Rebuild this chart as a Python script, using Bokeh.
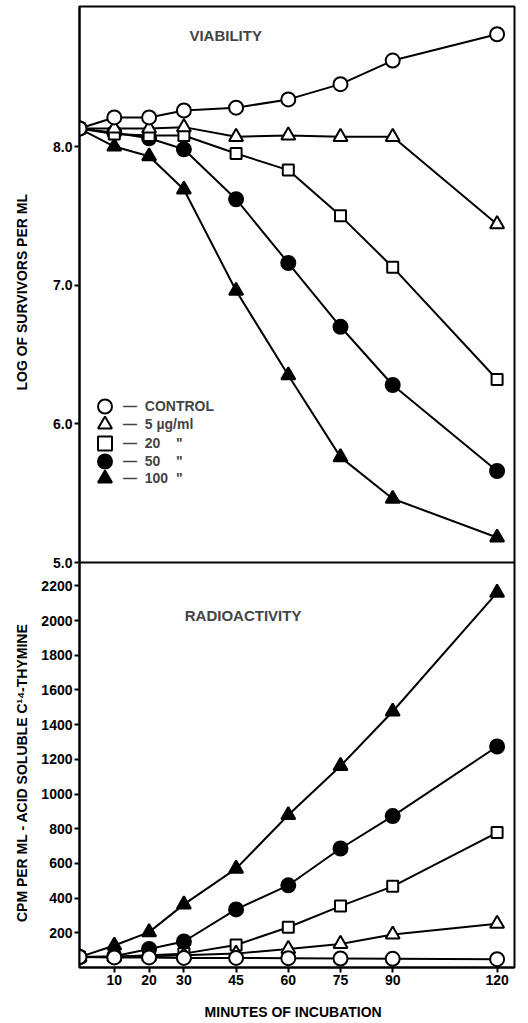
from bokeh.plotting import figure
from bokeh.layouts import column
from bokeh.models import FixedTicker, Range1d, Legend, LegendItem, Label, NumeralTickFormatter
from bokeh.embed import file_html
from bokeh.resources import INLINE

# ---------------- data ----------------
minutes = [0, 10, 20, 30, 45, 60, 75, 90, 120]
x_tick_values = [10, 20, 30, 45, 60, 75, 90, 120]

series_names = ["CONTROL", "5 µg/ml", "20", "50", "100"]
legend_labels = ["—  CONTROL", "—  5 µg/ml", "—  20    \"", "—  50    \"", "—  100  \""]

# Viability (log of survivors per ml)
viab_control = [8.13, 8.21, 8.21, 8.26, 8.28, 8.34, 8.45, 8.62, 8.81]
viab_5 = [8.13, 8.13, 8.13, 8.14, 8.07, 8.08, 8.07, 8.07, 7.44]
viab_20 = [8.13, 8.09, 8.08, 8.08, 7.95, 7.83, 7.50, 7.13, 6.32]
viab_50 = [8.13, 8.10, 8.06, 7.98, 7.62, 7.16, 6.70, 6.28, 5.66]
viab_100 = [8.13, 8.00, 7.93, 7.69, 6.96, 6.35, 5.76, 5.46, 5.18]
viab_ticks = [5.0, 6.0, 7.0, 8.0]

# Radioactivity (CPM per ml acid soluble C14-thymine)
cpm_control = [60, 58, 58, 55, 55, 54, 52, 50, 48]
cpm_5 = [60, 62, 65, 70, 80, 107, 136, 190, 252]
cpm_20 = [60, 62, 70, 80, 130, 232, 354, 468, 778]
cpm_50 = [60, 65, 107, 150, 335, 474, 686, 873, 1274]
cpm_100 = [60, 127, 204, 364, 570, 879, 1162, 1476, 2161]
cpm_ticks = [200, 400, 600, 800, 1000, 1200, 1400, 1600, 1800, 2000, 2200]

# ---------------- style ----------------
FONT = "Liberation Sans"
markers = [
    dict(marker="circle", fill_color="white", size=14),
    dict(marker="triangle", fill_color="white", size=14),
    dict(marker="square", fill_color="white", size=11),
    dict(marker="circle", fill_color="black", size=14),
    dict(marker="triangle", fill_color="black", size=14),
]
# legend rows: distance (px) from the bottom of the top frame to each legend box's bottom
legend_offsets = [137, 119, 100, 82, 65]


def style_axis(ax):
    ax.major_label_text_font = FONT
    ax.major_label_text_font_style = "bold"
    ax.major_label_text_font_size = "14px"
    ax.major_label_text_color = "black"
    ax.axis_label_text_font = FONT
    ax.axis_label_text_font_style = "bold"
    ax.axis_label_text_font_size = "14px"
    ax.axis_label_text_color = "black"
    ax.axis_line_width = 2
    ax.axis_line_color = "black"
    ax.major_tick_line_width = 2
    ax.major_tick_out = 5
    ax.major_tick_in = 0
    ax.minor_tick_out = 0
    ax.minor_tick_in = 0
    ax.major_label_standoff = 2


def base_fig(height, y_range, top, bottom, x_axis):
    p = figure(width=528, height=height, x_range=Range1d(0, 125), y_range=y_range,
               output_backend="svg", toolbar_location=None,
               x_axis_location="below" if x_axis else None,
               min_border_left=79, min_border_right=14,
               min_border_top=top, min_border_bottom=bottom)
    p.grid.visible = False
    p.outline_line_color = "black"
    p.outline_line_width = 2
    p.outline_line_alpha = 1
    p.background_fill_color = "white"
    p.border_fill_color = "white"
    return p


# ---------------- top panel ----------------
p1 = base_fig(570, Range1d(5.0, 9.01), 6, 8, False)
p1.yaxis.ticker = FixedTicker(ticks=viab_ticks)
p1.yaxis.formatter = NumeralTickFormatter(format="0.0")
p1.yaxis.axis_label = "LOG  OF  SURVIVORS  PER  ML"
style_axis(p1.yaxis[0])
p1.yaxis.axis_label_standoff = 20

viab_series = [viab_control, viab_5, viab_20, viab_50, viab_100]
for ys in viab_series:
    p1.line(minutes, ys, line_color="black", line_width=2)
viab_renderers = []
for ys, m in list(zip(viab_series, markers))[::-1]:
    r = p1.scatter(minutes, ys, line_color="black", line_width=2, **m)
    viab_renderers.append(r)
viab_renderers = viab_renderers[::-1]

for lab, r, off in zip(legend_labels, viab_renderers, legend_offsets):
    lg = Legend(items=[LegendItem(label=lab, renderers=[r])],
                location=(8, off), orientation="vertical",
                border_line_color=None, background_fill_alpha=0,
                padding=0, margin=0, spacing=0,
                glyph_height=38, glyph_width=35, label_height=38, label_standoff=1,
                label_text_font=FONT, label_text_font_style="bold",
                label_text_font_size="14px", label_text_baseline="middle")
    p1.add_layout(lg)

p1.add_layout(Label(x=42, y=8.8, text="VIABILITY", text_align="center", text_baseline="middle",
                    text_font=FONT, text_font_style="bold", text_font_size="15px"))

# ---------------- bottom panel ----------------
p2 = base_fig(461, Range1d(0, 2335), 0, 56, True)
p2.margin = (-8, 0, 0, 0)
p2.border_fill_alpha = 0
p2.yaxis.ticker = FixedTicker(ticks=cpm_ticks)
p2.xaxis.ticker = FixedTicker(ticks=x_tick_values)
p2.yaxis.axis_label = "CPM  PER  ML - ACID  SOLUBLE  C¹⁴-THYMINE"
p2.xaxis.axis_label = "MINUTES  OF  INCUBATION"
style_axis(p2.yaxis[0])
style_axis(p2.xaxis[0])
p2.yaxis.axis_label_standoff = 8
p2.xaxis.axis_label_standoff = 16

cpm_series = [cpm_control, cpm_5, cpm_20, cpm_50, cpm_100]
for ys in cpm_series:
    p2.line(minutes, ys, line_color="black", line_width=2)
for ys, m in list(zip(cpm_series, markers))[::-1]:
    p2.scatter(minutes, ys, line_color="black", line_width=2, **m)

p2.add_layout(Label(x=47, y=2030, text="RADIOACTIVITY", text_align="center", text_baseline="middle",
                    text_font=FONT, text_font_style="bold", text_font_size="15px"))

layout = column(p1, p2, spacing=0)
open("out.html", "w").write(file_html(layout, INLINE))
